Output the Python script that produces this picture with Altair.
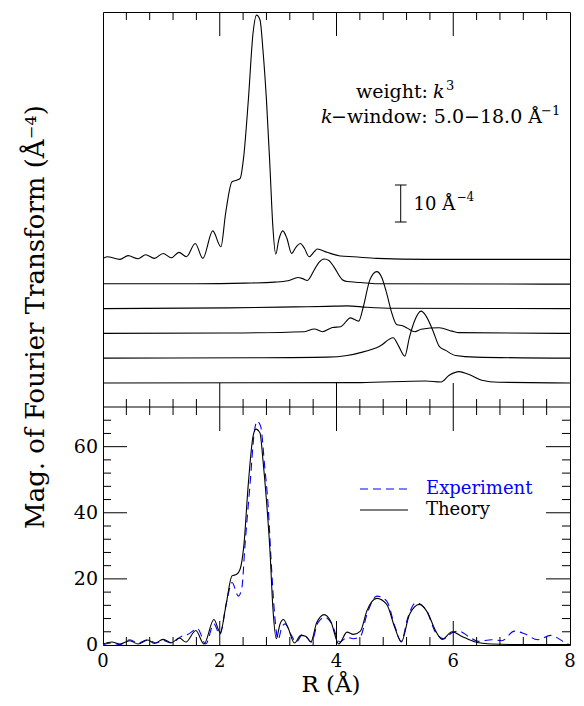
import altair as alt
import pandas as pd

FONT = "DejaVu Serif"
W = 467          # plot width (px)
H = 633          # full plot height: upper stack panel + lower comparison panel
H_DIV = 395      # pixel row of the divider between the two panels
PL, PT = 95, 4   # padding: plot origin sits at page (103, 12)
OX = 103         # page x of plot left edge (for placing annotations)

# ---------------- upper panel: individual contributions (each on its own offset) ----------------
c1_r = [0.00, 0.07, 0.29, 0.43, 0.60, 0.73, 0.88, 1.03, 1.17, 1.30, 1.43, 1.58, 1.71, 1.88, 2.02,
        2.10, 2.21, 2.29, 2.35, 2.41, 2.49, 2.57, 2.63, 2.69, 2.74, 2.80, 2.86, 2.91, 2.96, 3.01,
        3.08, 3.15, 3.23, 3.31, 3.38, 3.45, 3.53, 3.62, 3.67, 3.84, 4.07, 4.29, 4.69, 5.53, 8.00]
c1_a = [0.27, 0.72, 0.0, 1.0, 0.18, 1.26, 0.27, 1.6, 0.45, 1.9, 0.72, 4.3, 0.27, 7.7, 3.4,
        12.4, 21.0, 21.4, 21.9, 27.7, 43.1, 61.1, 66.0, 64.7, 56.6, 43.1, 25.0, 8.8, 1.4, 5.2,
        7.7, 5.7, 1.6, 3.4, 4.3, 3.0, 0.7, 2.1, 2.8, 1.9, 0.9, 0.7, 0.27, 0.0, 0.0]

c2_r = [0.0, 1.59, 2.43, 2.94, 3.17, 3.34, 3.42, 3.50, 3.62, 3.70, 3.79, 3.87, 3.95, 4.10, 4.18, 4.41, 4.69, 8.0]
c2_a = [0.1, 0.1, 0.27, 0.54, 0.9, 1.8, 1.5, 1.0, 3.9, 5.9, 6.8, 6.4, 4.8, 1.2, 0.7, 0.45, 0.1, 0.0]

c3_r = [0.0, 2.15, 3.28, 3.84, 4.18, 4.52, 4.97, 8.0]
c3_a = [0.0, 0.18, 0.45, 0.6, 0.72, 0.36, 0.1, 0.0]

c4_r = [0.0, 2.15, 3.45, 3.62, 3.76, 3.93, 4.07, 4.24, 4.38, 4.46, 4.57, 4.69, 4.77, 4.86, 4.94,
        5.03, 5.14, 5.22, 5.34, 5.45, 5.76, 5.98, 6.10, 8.0]
c4_a = [0.0, 0.1, 0.45, 1.2, 0.45, 1.6, 1.8, 4.2, 3.3, 7.2, 14.4, 16.7, 15.3, 10.8, 5.9,
        2.4, 2.0, 1.35, 0.45, 1.1, 1.5, 0.6, 0.2, 0.0]

c5_r = [0.0, 2.72, 3.84, 4.18, 4.41, 4.74, 4.97, 5.06, 5.17, 5.25, 5.34, 5.45, 5.53, 5.65, 5.76, 5.87, 6.04, 6.38, 8.0]
c5_a = [0.0, 0.1, 0.27, 0.72, 1.5, 3.2, 5.5, 3.4, 0.54, 5.7, 10.2, 12.7, 11.5, 7.5, 3.2, 2.1, 0.72, 0.27, 0.0]

c6_r = [0.0, 4.41, 5.53, 5.79, 5.93, 6.10, 6.26, 6.49, 6.77, 8.0]
c6_a = [0.0, 0.1, 0.54, 0.27, 2.07, 3.06, 2.34, 0.72, 0.18, 0.0]

offsets = [39.9, 33.2, 26.6, 19.9, 13.2, 6.5]   # stack offsets in the upper panel (Å^-4)

# scale bar (10 Å^-4) in the upper panel
sb_x = [5.1]
sb_lo = [50]
sb_hi = [60]

# ---------------- lower panel: experiment vs theory ----------------
th_r = [0.00, 0.15, 0.29, 0.46, 0.60, 0.77, 0.88, 1.03, 1.17, 1.31, 1.42, 1.59, 1.73, 1.90, 2.01,
        2.10, 2.21, 2.29, 2.35, 2.41, 2.49, 2.57, 2.62, 2.69, 2.74, 2.80, 2.86, 2.91, 2.97, 3.03,
        3.09, 3.17, 3.28, 3.39, 3.48, 3.56, 3.66, 3.79, 3.90, 4.04, 4.18, 4.29, 4.41, 4.52, 4.69,
        4.86, 5.00, 5.11, 5.25, 5.42, 5.56, 5.70, 5.81, 5.98, 6.15, 6.38, 6.66, 7.22, 8.00]
th_y = [0.3, 0.9, 0.3, 1.3, 0.3, 1.5, 0.5, 1.7, 0.7, 2.1, 0.9, 4.4, 0.3, 7.7, 3.7,
        11.3, 20.9, 21.4, 23.0, 29.6, 48.9, 63.1, 65.3, 64.1, 56.0, 43.8, 28.6, 11.3, 1.9, 6.2,
        7.7, 5.2, 0.6, 2.9, 2.6, 0.9, 6.7, 9.2, 7.2, 0.3, 3.9, 3.2, 4.2, 10.3, 14.1,
        12.3, 5.2, 0.9, 9.2, 12.3, 9.8, 4.2, 1.7, 4.0, 2.6, 0.9, 0.3, 0.1, 0.1]

ex_r = [0.00, 0.15, 0.29, 0.46, 0.60, 0.77, 0.91, 1.03, 1.17, 1.34, 1.45, 1.62, 1.76, 1.90, 2.00,
        2.12, 2.21, 2.32, 2.38, 2.43, 2.52, 2.59, 2.64, 2.70, 2.77, 2.83, 2.88, 2.94, 3.00, 3.06,
        3.12, 3.22, 3.31, 3.42, 3.50, 3.57, 3.68, 3.80, 3.91, 4.06, 4.18, 4.29, 4.41, 4.52, 4.69,
        4.86, 5.00, 5.11, 5.22, 5.36, 5.53, 5.70, 5.84, 5.98, 6.10, 6.26, 6.43, 6.66, 6.83, 7.05,
        7.22, 7.45, 7.67, 7.90, 8.00]
ex_y = [0.1, 0.6, 0.1, 1.6, 0.6, 1.6, 0.6, 1.4, 0.6, 2.6, 3.2, 4.9, 0.3, 6.4, 3.2,
        13.3, 18.9, 14.8, 17.4, 29.6, 48.9, 64.1, 67.7, 66.2, 54.0, 41.8, 25.5, 9.2, 1.6, 5.2,
        6.4, 3.2, 0.9, 3.2, 2.1, 0.9, 6.7, 8.4, 6.7, 0.9, 2.3, 1.9, 2.6, 9.2, 14.8,
        13.3, 5.7, 1.1, 8.2, 12.8, 10.8, 3.7, 1.9, 3.7, 4.2, 2.6, 1.1, 1.6, 1.3, 4.2,
        3.4, 1.6, 2.9, 0.9, 0.0]

x_labels = [0, 2, 4, 6, 8]
y_labels = [0, 20, 40, 60]
x_major = [2, 4, 6]
x_minor = [0.4, 0.8, 1.2, 1.6, 2.4, 2.8, 3.2, 3.6, 4.4, 4.8, 5.2, 5.6, 6.4, 6.8, 7.2, 7.6]
y_major = [20, 40, 60]
y_minor = [4, 8, 12, 16, 24, 28, 32, 36, 44, 48, 52, 56, 64, 68]

# ---------------- shared scales ----------------
LOW_MAX = 72.0                                   # lower panel spans 0..72
PX = (H - H_DIV) / LOW_MAX                       # px per unit in lower panel
Y_MAX = H / PX                                   # whole plot in lower-panel units
TOP_GAIN = 3.7 / PX                              # upper panel is drawn at 3.7 px per Å^-4
xs = alt.Scale(domain=[0, 8], nice=False, zero=False)
ys = alt.Scale(domain=[0, Y_MAX], nice=False, zero=False)


def up(v):
    return LOW_MAX + v * TOP_GAIN


one = pd.DataFrame({"d": [0]})
MAJ, MIN = 24, 8
BLUE = "#0000ff"


def xticks(vals, y0, y1):
    df = pd.DataFrame({"t": vals})
    return alt.Chart(df).mark_rule(stroke="black", strokeWidth=1).encode(
        x=alt.X("t:Q", scale=xs, axis=None), y=alt.value(y0), y2=alt.value(y1))


def yticks(vals, x0, x1):
    df = pd.DataFrame({"t": vals})
    return alt.Chart(df).mark_rule(stroke="black", strokeWidth=1).encode(
        y=alt.Y("t:Q", scale=ys, axis=None), x=alt.value(x0), x2=alt.value(x1))


def txt(text, px, y, size=19, align="left", baseline="alphabetic", color="black", style="normal", angle=0):
    """px is a page x position; y is relative to the plot top."""
    kw = dict(text=text, font=FONT, fontSize=size, align=align, baseline=baseline,
              color=color, fontStyle=style)
    if angle:
        kw["angle"] = angle
    return alt.Chart(one).mark_text(**kw).encode(x=alt.value(px - OX), y=alt.value(y))


# upper stacked curves
rows = []
for i, (rr, aa) in enumerate([(c1_r, c1_a), (c2_r, c2_a), (c3_r, c3_a),
                              (c4_r, c4_a), (c5_r, c5_a), (c6_r, c6_a)]):
    for r, a in zip(rr, aa):
        rows.append({"path": f"p{i+1}", "R": r, "v": up(a + offsets[i])})
top_df = pd.DataFrame(rows)

top_lines = alt.Chart(top_df).mark_line(color="black", strokeWidth=1.1, interpolate="monotone").encode(
    x=alt.X("R:Q", scale=xs, axis=None),
    y=alt.Y("v:Q", scale=ys, axis=None),
    detail="path:N",
)

# scale bar
sb_df = pd.DataFrame({"x": sb_x, "lo": [up(v) for v in sb_lo], "hi": [up(v) for v in sb_hi]})
sb_df["xl"] = sb_df["x"] - 0.1
sb_df["xr"] = sb_df["x"] + 0.1
sb_df["mid"] = (sb_df["lo"] + sb_df["hi"]) / 2
sb_df["xt"] = sb_df["x"] + 0.22
sb_vert = alt.Chart(sb_df).mark_rule(stroke="black", strokeWidth=1).encode(
    x=alt.X("x:Q", scale=xs, axis=None), y=alt.Y("lo:Q", scale=ys, axis=None), y2="hi:Q")
sb_cap1 = alt.Chart(sb_df).mark_rule(stroke="black", strokeWidth=1).encode(
    x=alt.X("xl:Q", scale=xs, axis=None), x2="xr:Q", y=alt.Y("lo:Q", scale=ys, axis=None))
sb_cap2 = alt.Chart(sb_df).mark_rule(stroke="black", strokeWidth=1).encode(
    x=alt.X("xl:Q", scale=xs, axis=None), x2="xr:Q", y=alt.Y("hi:Q", scale=ys, axis=None))
sb_text = alt.Chart(sb_df).mark_text(text="10 Å", font=FONT, fontSize=18, align="left",
                                     baseline="alphabetic", dy=6, color="black").encode(
    x=alt.X("xt:Q", scale=xs, axis=None), y=alt.Y("mid:Q", scale=ys, axis=None))
sb_sup = alt.Chart(sb_df).mark_text(text="−4", font=FONT, fontSize=12, align="left",
                                    baseline="alphabetic", dx=43, dy=-3, color="black").encode(
    x=alt.X("xt:Q", scale=xs, axis=None), y=alt.Y("mid:Q", scale=ys, axis=None))

# lower curves
th_df = pd.DataFrame({"R": th_r, "v": th_y})
ex_df = pd.DataFrame({"R": ex_r, "v": ex_y})
ex_line = alt.Chart(ex_df).mark_line(stroke=BLUE, strokeWidth=1.1, strokeDash=[8, 5],
                                     interpolate="monotone").encode(
    x=alt.X("R:Q", scale=xs, axis=None), y=alt.Y("v:Q", scale=ys, axis=None))
th_line = alt.Chart(th_df).mark_line(stroke="black", strokeWidth=1.1, interpolate="monotone").encode(
    x=alt.X("R:Q", scale=xs, axis=None), y=alt.Y("v:Q", scale=ys, axis=None))

# tick labels (lower panel)
xlab = alt.Chart(pd.DataFrame({"t": x_labels})).mark_text(
    font=FONT, fontSize=18, baseline="middle", align="center", color="black").encode(
    x=alt.X("t:Q", scale=xs, axis=None), y=alt.value(H + 17), text=alt.Text("t:Q", format="d"))
ylab = alt.Chart(pd.DataFrame({"t": y_labels})).mark_text(
    font=FONT, fontSize=19, baseline="middle", align="right", color="black").encode(
    y=alt.Y("t:Q", scale=ys, axis=None), x=alt.value(98 - OX), text=alt.Text("t:Q", format="d"))

divider = alt.Chart(one).mark_rule(stroke="black", strokeWidth=1).encode(
    x=alt.value(0), x2=alt.value(W), y=alt.value(H_DIV))

leg_exp = alt.Chart(one).mark_rule(stroke=BLUE, strokeWidth=1.1, strokeDash=[8, 5]).encode(
    x=alt.value(360 - OX), x2=alt.value(408 - OX), y=alt.value(H_DIV + 82))
leg_th = alt.Chart(one).mark_rule(stroke="black", strokeWidth=1.1).encode(
    x=alt.value(360 - OX), x2=alt.value(408 - OX), y=alt.value(H_DIV + 103))

chart = alt.layer(
    top_lines, ex_line, th_line,
    divider,
    # upper panel ticks
    xticks(x_major, 0, MAJ), xticks(x_minor, 0, MIN),
    xticks(x_major, H_DIV, H_DIV - MAJ), xticks(x_minor, H_DIV, H_DIV - MIN),
    # lower panel ticks
    xticks(x_major, H_DIV, H_DIV + MAJ), xticks(x_minor, H_DIV, H_DIV + MIN),
    xticks(x_major, H, H - MAJ), xticks(x_minor, H, H - MIN),
    yticks(y_major, 0, MAJ), yticks(y_minor, 0, MIN),
    yticks(y_major, W, W - MAJ), yticks(y_minor, W, W - MIN),
    xlab, ylab,
    sb_vert, sb_cap1, sb_cap2, sb_text, sb_sup,
    txt("weight:", 428, 86, align="right"),
    txt("k", 433, 86, style="italic"),
    txt("3", 446, 78, size=13),
    txt("k", 321, 111, style="italic"),
    txt("−window: 5.0−18.0 Å", 331, 111),
    txt("−1", 541, 103, size=13),
    leg_exp, leg_th,
    txt("Experiment", 426, H_DIV + 82, size=18, baseline="middle", color=BLUE),
    txt("Theory", 426, H_DIV + 103, size=18, baseline="middle"),
    txt("R (Å)", 331, H + 40, size=23, align="center", baseline="middle"),
    txt("Mag. of Fourier Transform (Å⁻⁴)", 36, 305, size=26, align="center",
        baseline="middle", angle=270),
).properties(
    width=W, height=H,
    autosize=alt.AutoSizeParams(type="none"),
    padding={"left": PL, "top": PT, "right": 568 - PL - W, "bottom": 53},
).configure(background="white").configure_view(stroke="black", strokeWidth=1)

chart.save("out.html", embed_options={"renderer": "svg", "actions": False})
